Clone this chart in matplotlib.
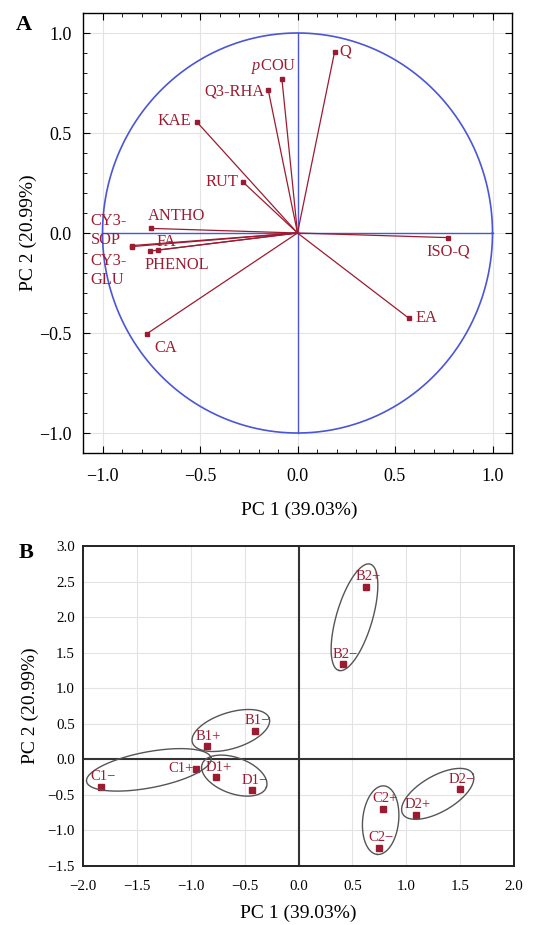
import numpy as np
import matplotlib
matplotlib.use("Agg")
import matplotlib.pyplot as plt
from matplotlib.ticker import MultipleLocator

plt.rcParams['font.family'] = ['Liberation Serif', 'DejaVu Serif']
plt.rcParams['mathtext.fontset'] = 'custom'
plt.rcParams['mathtext.it'] = 'Liberation Serif:italic'
plt.rcParams['mathtext.rm'] = 'Liberation Serif'

# --- panel A: loadings (PC1, PC2) ---
load_names = ["Q", "$\\it{p}$COU", "Q3-RHA", "KAE", "RUT", "ANTHO", "CY3-\nSOP",
              "CY3-\nGLU", "FA", "PHENOL", "ISO-Q", "EA", "CA"]
load_pc1 = [0.19, -0.08, -0.15, -0.516, -0.282, -0.75, -0.85,
            -0.85, -0.713, -0.754, 0.771, 0.571, -0.773]
load_pc2 = [0.905, 0.77, 0.715, 0.555, 0.257, 0.023, -0.063,
            -0.068, -0.085, -0.09, -0.023, -0.426, -0.504]

# --- panel B: sample scores ---
sample_names = ["B2+", "B2\u2212", "B1\u2212", "B1+", "C1+", "D1+", "D1\u2212",
                "C1\u2212", "C2+", "C2\u2212", "D2+", "D2\u2212"]
score_pc1 = [0.626, 0.413, -0.404, -0.852, -0.948, -0.763, -0.429,
             -1.83, 0.781, 0.744, 1.088, 1.496]
score_pc2 = [2.43, 1.34, 0.40, 0.186, -0.134, -0.25, -0.433,
             -0.387, -0.696, -1.24, -0.776, -0.42]
# pairs of samples that are circled together
groups = [("B2+", "B2\u2212"), ("B1+", "B1\u2212"), ("C1\u2212", "C1+"),
          ("D1+", "D1\u2212"), ("C2+", "C2\u2212"), ("D2+", "D2\u2212")]

# label placement (pixel offsets, alignment) - layout only
load_label_pos = {
    "Q": (5, 1, "left", "center"),
    "$\\it{p}$COU": (-8, 13, "center", "center"),
    "Q3-RHA": (-4, -1, "right", "center"),
    "KAE": (-6, 1, "right", "center"),
    "RUT": (-4, 0, "right", "center"),
    "ANTHO": (-3, 12, "left", "center"),
    "CY3-\nSOP": (-41, 15, "left", "center"),
    "CY3-\nGLU": (-41, -24, "left", "center"),
    "FA": (-2, 8, "left", "center"),
    "PHENOL": (-6, -14, "left", "center"),
    "ISO-Q": (0, -14, "center", "center"),
    "EA": (7, 0, "left", "center"),
    "CA": (8, -14, "left", "center"),
}

RED = "#9c1b30"
BLUE = "#4a56d6"

fig = plt.figure(figsize=(5.35, 9.25), dpi=100)

# ---------------- panel A ----------------
axA = fig.add_axes([83 / 535, 1 - 453 / 925, 429 / 535, 440 / 925])
axA.set_xlim(-1.1, 1.1)
axA.set_ylim(-1.1, 1.1)
axA.xaxis.set_major_locator(MultipleLocator(0.5))
axA.yaxis.set_major_locator(MultipleLocator(0.5))
axA.xaxis.set_minor_locator(MultipleLocator(0.1))
axA.yaxis.set_minor_locator(MultipleLocator(0.1))
axA.grid(True, which="major", color="#e3e3e3", lw=0.8)
axA.set_axisbelow(True)
axA.tick_params(which="both", direction="in", top=True, right=True, labelsize=13)
axA.tick_params(which="major", length=5)
axA.tick_params(which="minor", length=3)
axA.tick_params(axis="x", pad=11)
axA.tick_params(axis="y", pad=8)
for sp in axA.spines.values():
    sp.set_linewidth(1.0)

theta = np.linspace(0, 2 * np.pi, 400)
axA.plot(np.cos(theta), np.sin(theta), color=BLUE, lw=1.2)
axA.plot([-1, 1], [0, 0], color=BLUE, lw=1.0)
axA.plot([0, 0], [-1, 1], color=BLUE, lw=1.0)

for name, x, y in zip(load_names, load_pc1, load_pc2):
    axA.plot([0, x], [0, y], color=RED, lw=0.9)
    axA.plot(x, y, "s", color=RED, ms=3)
    dx, dy, ha, va = load_label_pos[name]
    axA.annotate(name, (x, y), xytext=(dx, dy), textcoords="offset pixels",
                 ha=ha, va=va, color=RED, fontsize=11.8, linespacing=1.25)

fig.text(299.5 / 535, 1 - 510 / 925, "PC 1 (39.03%)", ha="center", va="center", fontsize=14)
fig.text(28 / 535, 1 - 233 / 925, "PC 2 (20.99%)", ha="center", va="center",
         rotation=90, fontsize=14)
fig.text(24 / 535, 1 - 25 / 925, "A", ha="center", va="center", fontsize=16, fontweight="bold")

# ---------------- panel B ----------------
axB = fig.add_axes([83 / 535, 1 - 866 / 925, 431 / 535, 320 / 925])
axB.set_xlim(-2.0, 2.0)
axB.set_ylim(-1.5, 3.0)
axB.xaxis.set_major_locator(MultipleLocator(0.5))
axB.yaxis.set_major_locator(MultipleLocator(0.5))
axB.grid(True, color="#e3e3e3", lw=0.8)
axB.set_axisbelow(True)
axB.tick_params(length=0, labelsize=10.8)
axB.tick_params(axis="x", pad=10)
axB.tick_params(axis="y", pad=6)
for sp in axB.spines.values():
    sp.set_linewidth(1.4)
    sp.set_color("#222222")
axB.axhline(0, color="#333333", lw=1.5)
axB.axvline(0, color="#333333", lw=1.5)

axB.plot(score_pc1, score_pc2, "s", color=RED, ms=4, ls="none")
for name, x, y in zip(sample_names, score_pc1, score_pc2):
    if name == "C1+":
        axB.annotate(name, (x, y), xytext=(-3, 0), textcoords="offset pixels",
                     ha="right", va="center", color=RED, fontsize=10.5)
    else:
        axB.annotate(name, (x, y), xytext=(2, 10), textcoords="offset pixels",
                     ha="center", va="center", color=RED, fontsize=10.5)


def pair_ellipse(ax, p, q, pad=15, half_width=18, lift=8):
    # ellipse drawn in screen space around two points, then mapped back to data
    pts = ax.transData.transform([p, q])
    (x0, y0), (x1, y1) = pts
    cx, cy = (x0 + x1) / 2, (y0 + y1) / 2 + lift
    ang = np.arctan2(y1 - y0, x1 - x0)
    a = np.hypot(x1 - x0, y1 - y0) / 2 + pad
    b = half_width
    t = np.linspace(0, 2 * np.pi, 200)
    ex = cx + a * np.cos(t) * np.cos(ang) - b * np.sin(t) * np.sin(ang)
    ey = cy + a * np.cos(t) * np.sin(ang) + b * np.sin(t) * np.cos(ang)
    back = ax.transData.inverted().transform(np.column_stack([ex, ey]))
    ax.plot(back[:, 0], back[:, 1], color="#555555", lw=1.0)


idx = {n: i for i, n in enumerate(sample_names)}
for g1, g2 in groups:
    i, j = idx[g1], idx[g2]
    pair_ellipse(axB, (score_pc1[i], score_pc2[i]), (score_pc1[j], score_pc2[j]))

fig.text(298.5 / 535, 1 - 913 / 925, "PC 1 (39.03%)", ha="center", va="center", fontsize=14)
fig.text(30 / 535, 1 - 706 / 925, "PC 2 (20.99%)", ha="center", va="center",
         rotation=90, fontsize=14)
fig.text(26 / 535, 1 - 553 / 925, "B", ha="center", va="center", fontsize=16, fontweight="bold")

fig.savefig("out.png", dpi=100)
